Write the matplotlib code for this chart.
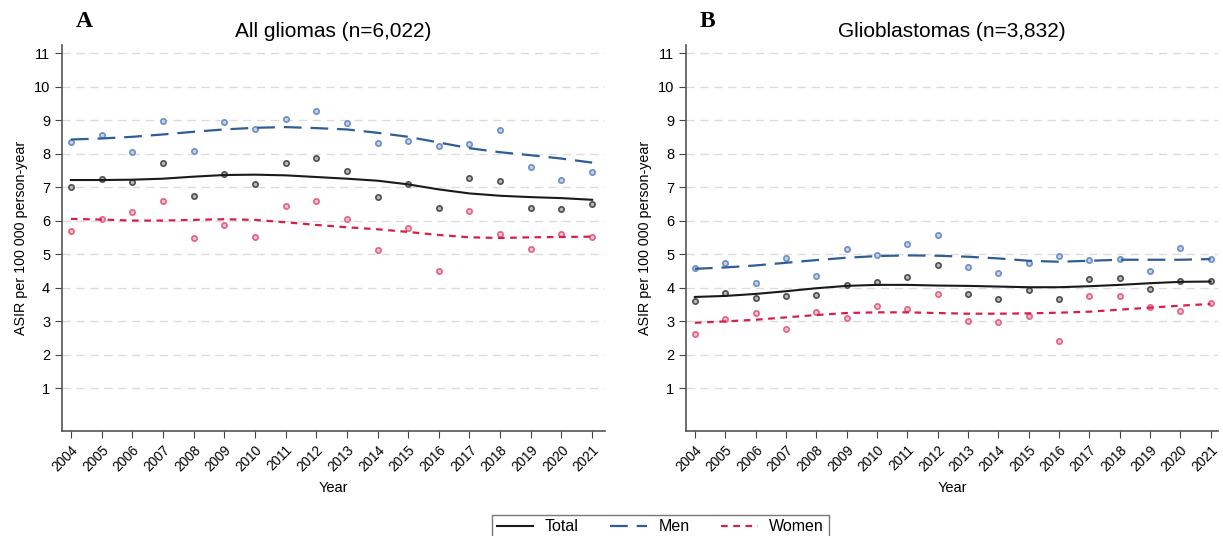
import matplotlib
matplotlib.use("Agg")
import matplotlib.pyplot as plt
from matplotlib.lines import Line2D

plt.rcParams['font.family'] = ['Liberation Sans', 'DejaVu Sans']

years = list(range(2004, 2022))

# A: all gliomas
a_total_pts = [7.00, 7.25, 7.16, 7.71, 6.73, 7.38, 7.09, 7.71, 7.88, 7.47, 6.70, 7.08, 6.38, 7.27, 7.17, 6.38, 6.36, 6.48]
a_men_pts = [8.35, 8.55, 8.05, 8.96, 8.08, 8.94, 8.74, 9.03, 9.26, 8.91, 8.32, 8.37, 8.24, 8.28, 8.71, 7.60, 7.21, 7.45]
a_women_pts = [5.70, 6.04, 6.26, 6.59, 5.49, 5.87, 5.50, 6.44, 6.58, 6.04, 5.12, 5.79, 4.50, 6.30, 5.59, 5.15, 5.60, 5.51]
a_total_fit = [7.21, 7.21, 7.22, 7.25, 7.31, 7.36, 7.37, 7.35, 7.30, 7.25, 7.19, 7.08, 6.93, 6.81, 6.74, 6.70, 6.67, 6.62]
a_men_fit = [8.42, 8.45, 8.50, 8.57, 8.65, 8.72, 8.77, 8.79, 8.76, 8.72, 8.62, 8.50, 8.33, 8.16, 8.04, 7.95, 7.85, 7.73]
a_women_fit = [6.05, 6.03, 6.00, 6.00, 6.02, 6.04, 6.02, 5.95, 5.87, 5.80, 5.74, 5.66, 5.57, 5.50, 5.48, 5.50, 5.51, 5.52]

# B: glioblastomas
b_total_pts = [3.59, 3.85, 3.68, 3.75, 3.78, 4.09, 4.18, 4.31, 4.67, 3.81, 3.66, 3.94, 3.66, 4.27, 4.29, 3.95, 4.21, 4.21]
b_men_pts = [4.59, 4.73, 4.15, 4.89, 4.34, 5.15, 4.96, 5.29, 5.58, 4.62, 4.43, 4.74, 4.94, 4.83, 4.84, 4.50, 5.18, 4.86]
b_women_pts = [2.60, 3.07, 3.23, 2.75, 3.28, 3.10, 3.46, 3.37, 3.80, 3.00, 2.96, 3.16, 2.41, 3.76, 3.76, 3.43, 3.29, 3.53]
b_total_fit = [3.72, 3.75, 3.81, 3.89, 3.98, 4.05, 4.08, 4.08, 4.06, 4.05, 4.03, 4.01, 4.01, 4.04, 4.08, 4.13, 4.17, 4.18]
b_men_fit = [4.56, 4.60, 4.66, 4.74, 4.82, 4.89, 4.94, 4.96, 4.95, 4.92, 4.87, 4.80, 4.77, 4.80, 4.83, 4.83, 4.83, 4.85]
b_women_fit = [2.95, 2.99, 3.04, 3.11, 3.18, 3.24, 3.26, 3.26, 3.24, 3.22, 3.22, 3.23, 3.25, 3.28, 3.34, 3.40, 3.46, 3.51]

c_total, c_total_pt = '#1a1a1a', '#555555'
c_men, c_men_pt = '#2f5d95', '#7393c4'
c_women, c_women_pt = '#d81e4a', '#e36a86'
men_dash = (0, (8, 4))
women_dash = (0, (3, 2.5))

fig = plt.figure(figsize=(12.23, 5.36), dpi=100)
ax_a = fig.add_axes([0.0507, 0.196, 0.444, 0.720])
ax_b = fig.add_axes([0.561, 0.196, 0.435, 0.720])


def draw(ax, pts, fits, title, letter, xmax):
    for y in range(1, 12):
        ax.axhline(y, color='#dcdcdc', lw=1.0, ls=(0, (6, 4)), zorder=0)
    (tp, mp, wp), (tf, mf, wf) = pts, fits
    ax.scatter(years, mp, s=14, facecolor='#c8d4ea', edgecolor=c_men_pt, lw=1.3, zorder=2)
    ax.scatter(years, tp, s=14, facecolor='#bbbbbb', edgecolor=c_total_pt, lw=1.3, zorder=2)
    ax.scatter(years, wp, s=14, facecolor='#f3c3ce', edgecolor=c_women_pt, lw=1.3, zorder=2)
    ax.plot(years, tf, color=c_total, lw=1.5, zorder=3)
    ax.plot(years, mf, color=c_men, lw=1.6, ls=men_dash, zorder=3)
    ax.plot(years, wf, color=c_women, lw=1.6, ls=women_dash, zorder=3)
    ax.set_xlim(2003.71, xmax)
    ax.set_ylim(-0.28, 11.24)
    ax.set_yticks(range(1, 12))
    ax.set_xticks(years)
    ax.set_xticklabels([str(y) for y in years], rotation=45, ha='right',
                       rotation_mode='anchor', fontsize=9.8)
    ax.tick_params(axis='y', labelsize=10.5, length=5, color='#444444')
    ax.tick_params(axis='x', length=5, color='#444444')
    for s in ('top', 'right'):
        ax.spines[s].set_visible(False)
    for s in ('left', 'bottom'):
        ax.spines[s].set_color('#555555')
        ax.spines[s].set_linewidth(1.2)
    ax.set_xlabel('Year', fontsize=10.5, labelpad=5)
    ax.set_ylabel('ASIR per 100 000 person-year', fontsize=10.3)
    ax.set_title(title, fontsize=15, pad=6)
    ax.text(0.026, 1.035, letter, transform=ax.transAxes, fontsize=17,
            fontweight='bold', family='Liberation Serif', va='bottom')


draw(ax_a, (a_total_pts, a_men_pts, a_women_pts),
     (a_total_fit, a_men_fit, a_women_fit), 'All gliomas (n=6,022)', 'A', 2021.42)
draw(ax_b, (b_total_pts, b_men_pts, b_women_pts),
     (b_total_fit, b_men_fit, b_women_fit), 'Glioblastomas (n=3,832)', 'B', 2021.25)

handles = [Line2D([], [], color=c_total, lw=1.5),
           Line2D([], [], color=c_men, lw=1.6, ls=men_dash),
           Line2D([], [], color=c_women, lw=1.6, ls=women_dash)]
leg = fig.legend(handles, ['Total', 'Men', 'Women'], loc='upper center',
                 bbox_to_anchor=(0.540, 0.055), ncol=3, fontsize=11.5,
                 frameon=True, fancybox=False, handlelength=2.3,
                 handletextpad=0.7, columnspacing=2.0, borderpad=0.3)
leg.get_frame().set_edgecolor('#555555')
leg.get_frame().set_linewidth(1.0)

fig.savefig('out.png', dpi=100)
